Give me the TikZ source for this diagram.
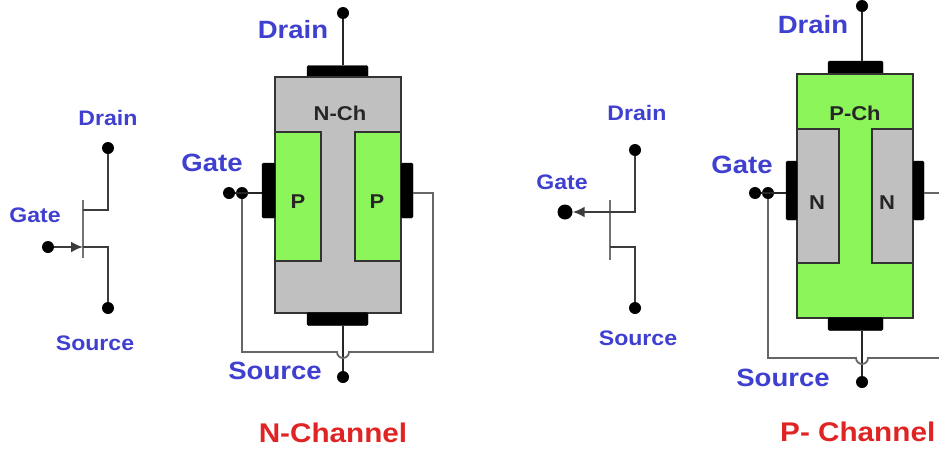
\documentclass[tikz,border=0pt]{standalone}
\usepackage{fontspec}
\setmainfont{Liberation Sans}[FakeStretch=1.1]
\usetikzlibrary{arrows.meta}
\definecolor{lblue}{RGB}{64,64,208}
\definecolor{lred}{RGB}{224,36,36}
\definecolor{pgreen}{RGB}{140,245,90}
\definecolor{ngray}{RGB}{192,192,192}
\definecolor{wire}{RGB}{60,60,60}
\tikzset{
  sym/.style={draw=wire, line width=2.3pt},
  lead/.style={draw=black!85, line width=2pt},
  loopwire/.style={draw=black!60, line width=1.8pt},
  body/.style={draw=black!80, line width=2.2pt},
  plate/.style={fill=black, draw=black, rounded corners=1.5pt},
  pin/.style={circle, fill=black, inner sep=0pt, minimum size=12pt},
  bigpin/.style={circle, fill=black, inner sep=0pt, minimum size=15pt},
  symlabel/.style={text=lblue, font=\fontsize{21}{21}\selectfont\bfseries, inner sep=0pt},
  partlabel/.style={text=lblue, font=\fontsize{25}{25}\selectfont\bfseries, inner sep=0pt},
  regionlabel/.style={text=black!85, font=\fontsize{20}{20}\selectfont\bfseries, inner sep=0pt},
  titlelabel/.style={text=lred, font=\fontsize{27}{27}\selectfont\bfseries, inner sep=0pt},
}
\begin{document}
\begin{tikzpicture}[x=1pt, y=-1pt]
\useasboundingbox (0,0) rectangle (939,450);
\fill[white] (0,0) rectangle (939,450);

% ---------- N-channel JFET symbol ----------
\node[pin] (nsD) at (108,148) {};
\node[pin] (nsS) at (108,308) {};
\node[pin] (nsG) at (48,247) {};
\coordinate (nsBarTop) at (83,200);
\coordinate (nsBarBot) at (83,258);
\coordinate (nsDj) at (83,210);
\coordinate (nsSj) at (83,247);
\draw[sym, line width=1.6pt, draw=black!55] (nsBarTop) -- (nsBarBot);
\draw[sym] (nsD) |- (nsDj);
\draw[sym] (nsS) |- (nsSj);
\draw[sym, -{Latex[length=12pt, width=11pt]}] (nsG) -- (nsSj);
\node[symlabel] at (108,118) {Drain};
\node[symlabel] at (35,215) {Gate};
\node[symlabel] at (95,343) {Source};

% ---------- N-channel structure ----------
\node[plate, minimum width=61pt, minimum height=13pt, inner sep=0pt] (nDplate) at (337.5,72) {};
\fill[ngray] (275,77) rectangle (401,313);
\draw[body, fill=pgreen] (275,132) rectangle (321,261);
\draw[body, fill=pgreen] (355,132) rectangle (401,261);
\draw[body] (275,77) rectangle (401,313);
\node[plate, minimum width=61pt, minimum height=13pt, inner sep=0pt] (nSplate) at (337.5,319) {};
\node[plate, minimum width=13pt, minimum height=55pt, inner sep=0pt] (nGL) at (268.5,190.5) {};
\node[plate, minimum width=12pt, minimum height=55pt, inner sep=0pt] (nGR) at (407,190.5) {};
\node[pin] (nD) at (343,13) {};
\node[pin] (nS) at (343,377) {};
\node[pin] (nG1) at (229,193) {};
\node[pin] (nG2) at (242,193) {};
\draw[lead] (nD) -- (nD |- nDplate.north);
\draw[lead] (nS) -- (nS |- nSplate.south);
\draw[lead] (nG1) -- (nGL.west |- nG1);
\draw[loopwire] (nG2) -- (242,352) -- (337,352) arc[start angle=180, end angle=360, radius=6pt]
  -- (433,352) -- (433,193) -- (nGR.east |- nG1);
\node[partlabel] at (293,30) {Drain};
\node[partlabel] at (212,163) {Gate};
\node[partlabel] at (275,371) {Source};
\node[regionlabel] at (340,113) {N-Ch};
\node[regionlabel] at (298,202) {P};
\node[regionlabel] at (377,202) {P};
\node[titlelabel] at (333,433) {N-Channel};

% ---------- P-channel JFET symbol ----------
\node[pin] (psD) at (635,150) {};
\node[pin] (psS) at (635,308) {};
\node[bigpin] (psG) at (565,212) {};
\coordinate (psBarTop) at (610,200);
\coordinate (psBarBot) at (610,260);
\coordinate (psDj) at (610,212);
\coordinate (psSj) at (610,247);
\draw[sym, line width=1.6pt, draw=black!55] (psBarTop) -- (psBarBot);
\draw[sym] (psD) |- (psDj);
\draw[sym] (psS) |- (psSj);
\draw[sym, -{Latex[length=12pt, width=11pt]}] (psDj) -- (psG);
\node[symlabel] at (637,113) {Drain};
\node[symlabel] at (562,182) {Gate};
\node[symlabel] at (638,338) {Source};

% ---------- P-channel structure ----------
\node[plate, minimum width=55pt, minimum height=14pt, inner sep=0pt] (pDplate) at (855.5,68) {};
\fill[pgreen] (797,74) rectangle (913,318);
\draw[body, fill=ngray] (797,129) rectangle (839,263);
\draw[body, fill=ngray] (872,129) rectangle (913,263);
\draw[body] (797,74) rectangle (913,318);
\node[plate, minimum width=55pt, minimum height=13pt, inner sep=0pt] (pSplate) at (855.5,324) {};
\node[plate, minimum width=11pt, minimum height=59pt, inner sep=0pt] (pGL) at (791.5,190.5) {};
\node[plate, minimum width=11pt, minimum height=59pt, inner sep=0pt] (pGR) at (918.5,190.5) {};
\node[pin] (pD) at (862,6) {};
\node[pin] (pS) at (862,382) {};
\node[pin] (pG1) at (755,193) {};
\node[pin] (pG2) at (768,193) {};
\coordinate (pLoopEnd) at (950,358);
\coordinate (pRightEnd) at (950,193);
\draw[lead] (pD) -- (pD |- pDplate.north);
\draw[lead] (pS) -- (pS |- pSplate.south);
\draw[lead] (pG1) -- (pGL.west |- pG1);
\draw[loopwire] (pG2) -- (768,358) -- (856,358) arc[start angle=180, end angle=360, radius=6pt]
  -- (pLoopEnd);
\draw[loopwire] (pGR.east |- pG1) -- (pRightEnd);
\node[partlabel] at (813,25) {Drain};
\node[partlabel] at (742,165) {Gate};
\node[partlabel] at (783,378) {Source};
\node[regionlabel] at (855,113) {P-Ch};
\node[regionlabel] at (817,203) {N};
\node[regionlabel] at (887,203) {N};
\node[titlelabel, anchor=west] at (780,432) {P- Channel};
\end{tikzpicture}
\end{document}
